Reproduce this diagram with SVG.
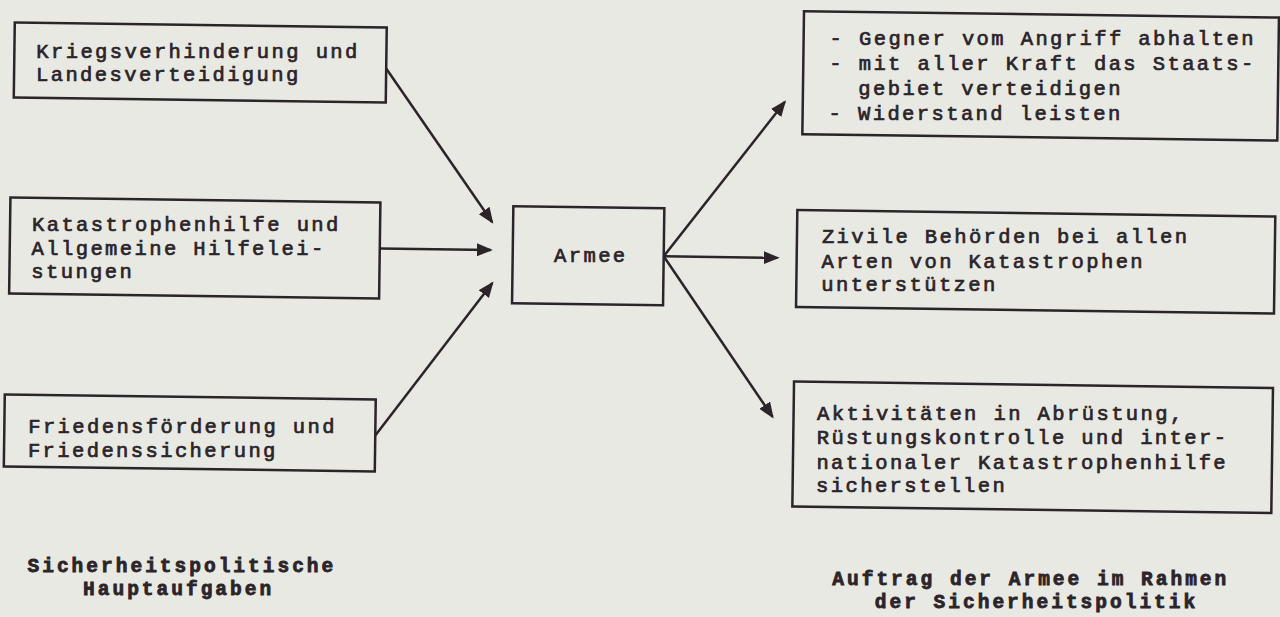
<svg xmlns="http://www.w3.org/2000/svg" width="1280" height="617" viewBox="0 0 1280 617">
<style>
.box{fill:none;stroke:#2b2429;stroke-width:2.5}
.t{font-family:"Liberation Mono","Courier New",monospace;font-size:20.5px;letter-spacing:2.4px;fill:#2b2429;stroke:#2b2429;stroke-width:0.7}
.cap{font-size:19.5px;letter-spacing:3px;font-weight:bold;stroke-width:0.8;text-anchor:middle}
.c{fill:none;stroke:#2b2429;stroke-width:2.5}
</style>
<defs>
<marker id="ah" markerUnits="userSpaceOnUse" markerWidth="18" markerHeight="15" refX="14" refY="6.5" orient="auto">
<path d="M0,0 L16,6.5 L0,13 z" fill="#2b2429"/>
</marker>
</defs>
<rect width="1280" height="617" fill="#e9e9e4"/>
<g transform="rotate(0.77 640 308)">
<g id="connectors">
<line class="c" x1="383" y1="72" x2="491" y2="224" marker-end="url(#ah)"/>
<line class="c" x1="379" y1="252" x2="490" y2="252" marker-end="url(#ah)"/>
<line class="c" x1="377" y1="439" x2="492" y2="285" marker-end="url(#ah)"/>
<line class="c" x1="663" y1="256" x2="782" y2="100" marker-end="url(#ah)"/>
<line class="c" x1="663" y1="256" x2="777" y2="256" marker-end="url(#ah)"/>
<line class="c" x1="663" y1="256" x2="774" y2="415" marker-end="url(#ah)"/>
</g>
<g id="n-krieg"><rect class="box" x="11" y="31" width="372" height="75"/></g>
<g id="n-kata"><rect class="box" x="9" y="206" width="370" height="96"/></g>
<g id="n-frieden"><rect class="box" x="6" y="403" width="371" height="72"/></g>
<g id="n-armee"><rect class="box" x="512" y="208" width="151" height="97"/></g>
<g id="n-verteidigung"><rect class="box" x="800" y="9" width="475" height="123"/></g>
<g id="n-zivil"><rect class="box" x="796" y="208" width="478" height="97"/></g>
<g id="n-abruestung"><rect class="box" x="795" y="379.5" width="479" height="125"/></g>
</g>
<g id="labels">
<g id="n-krieg-text">
<text class="t" x="36.3" y="57.5">Kriegsverhinderung und</text>
<text class="t" x="36" y="81.1">Landesverteidigung</text>
</g>
<g id="n-kata-text">
<text class="t" x="32" y="231.4">Katastrophenhilfe und</text>
<text class="t" x="31.6" y="255">Allgemeine Hilfelei-</text>
<text class="t" x="31.3" y="278.4">stungen</text>
</g>
<g id="n-frieden-text">
<text class="t" x="28.2" y="432.9">Friedensförderung und</text>
<text class="t" x="27.9" y="456.5">Friedenssicherung</text>
</g>
<g id="n-armee-text">
<text class="t" x="590.8" y="262.3" text-anchor="middle">Armee</text>
</g>
<g id="n-verteidigung-text">
<text class="t" x="829.6" y="45.4">- Gegner vom Angriff abhalten</text>
<text class="t" x="829.3" y="70.4">- mit aller Kraft das Staats-</text>
<text class="t" x="858.3" y="94.7">gebiet verteidigen</text>
<text class="t" x="828.6" y="119.5">- Widerstand leisten</text>
</g>
<g id="n-zivil-text">
<text class="t" x="821.9" y="243.4">Zivile Behörden bei allen</text>
<text class="t" x="821.6" y="267.6">Arten von Katastrophen</text>
<text class="t" x="821.3" y="291.1">unterstützen</text>
</g>
<g id="n-abruestung-text">
<text class="t" x="817.1" y="419.5">Aktivitäten in Abrüstung,</text>
<text class="t" x="816.7" y="444.2">Rüstungskontrolle und inter-</text>
<text class="t" x="816.4" y="468.7">nationaler Katastrophenhilfe</text>
<text class="t" x="816.1" y="491.9">sicherstellen</text>
</g>
<g id="caption-left">
<text class="t cap" x="181.9" y="571.9">Sicherheitspolitische</text>
<text class="t cap" x="178.6" y="594.8">Hauptaufgaben</text>
</g>
<g id="caption-right">
<text class="t cap" x="1030.8" y="585.3">Auftrag der Armee im Rahmen</text>
<text class="t cap" x="1036.5" y="608.4">der Sicherheitspolitik</text>
</g>
</g>
</svg>
